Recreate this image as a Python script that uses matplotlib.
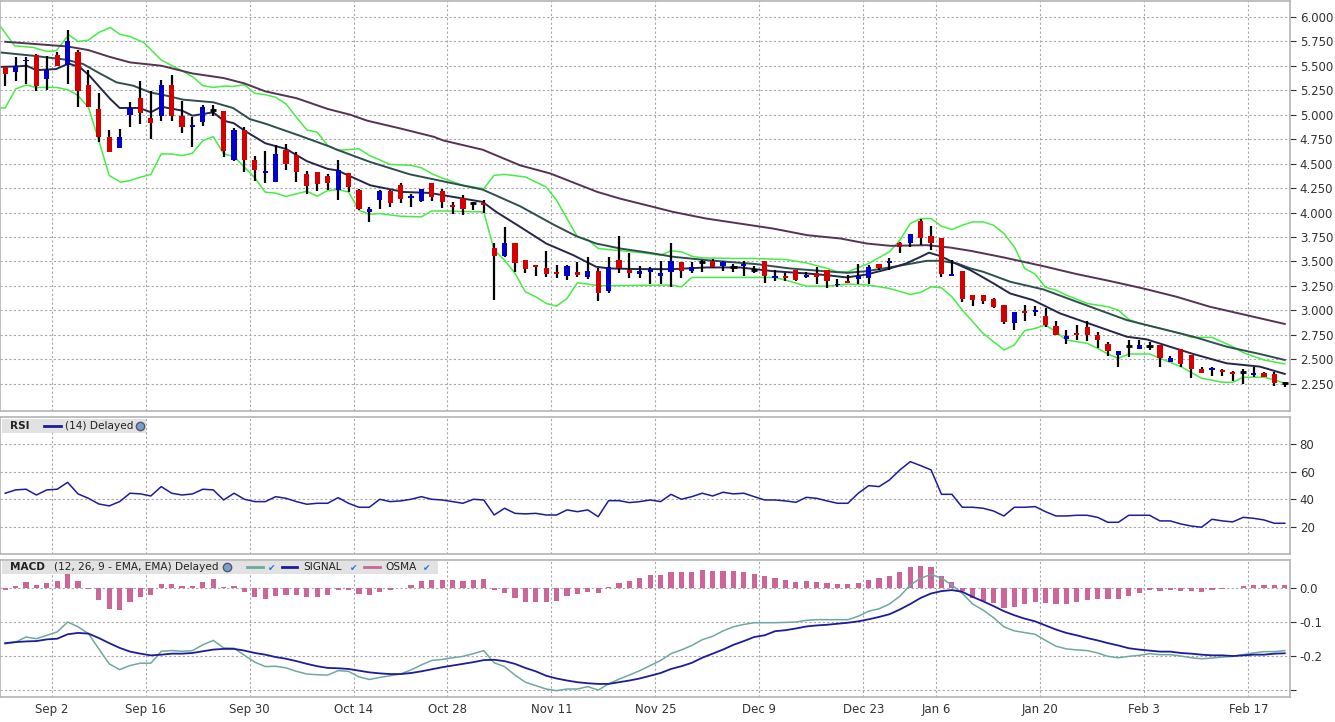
import numpy as np
import pandas as pd
import matplotlib
matplotlib.use("Agg")
import matplotlib.pyplot as plt

# --- trading days (TSX calendar) ---
holidays = ["2024-09-02", "2024-10-14", "2024-12-25", "2024-12-26",
            "2025-01-01", "2025-02-17"]
dates = pd.bdate_range("2024-08-26", "2025-02-21")
dates = dates[~dates.isin(pd.to_datetime(holidays))]

tick_dates = ["2024-09-02", "2024-09-16", "2024-09-30", "2024-10-14",
              "2024-10-28", "2024-11-11", "2024-11-25", "2024-12-09",
              "2024-12-23", "2025-01-06", "2025-01-20", "2025-02-03",
              "2025-02-17"]
tick_labels = ["Sep 2", "Sep 16", "Sep 30", "Oct 14", "Oct 28", "Nov 11",
               "Nov 25", "Dec 9", "Dec 23", "Jan 6", "Jan 20", "Feb 3", "Feb 17"]

# --- OHLC ---
opens = [5.49, 5.44, 5.546, 5.614, 5.369, 5.614, 5.508, 5.645, 5.308, 5.063,
         4.777, 4.658, 5.002, 5.172, 4.968, 4.985, 5.308, 4.99, 4.872, 4.923,
         5.053, 5.043, 4.539, 4.849, 4.539, 4.41, 4.318, 4.644, 4.593, 4.39,
         4.42, 4.372, 4.228, 4.408, 4.228, 4.007, 4.126, 4.221, 4.279, 4.15,
         4.119, 4.303, 4.218, 4.075, 4.153, 4.099, 4.099, 3.64, 3.558, 3.684,
         3.514, 3.469, 3.435, 3.39, 3.354, 3.39, 3.34, 3.401, 3.2, 3.514,
         3.418, 3.371, 3.395, 3.354, 3.388, 3.497, 3.405, 3.49, 3.503, 3.452,
         3.446, 3.456, 3.412, 3.503, 3.33, 3.35, 3.412, 3.34, 3.378, 3.412,
         3.26, 3.30, 3.316, 3.333, 3.473, 3.486, 3.69, 3.69, 3.915, 3.759,
         3.741, 3.35, 3.405, 3.156, 3.156, 3.112, 3.054, 2.874, 2.993, 2.986,
         2.942, 2.844, 2.707, 2.765, 2.833, 2.748, 2.656, 2.544, 2.64, 2.605,
         2.64, 2.646, 2.476, 2.605, 2.544, 2.401, 2.395, 2.391, 2.371, 2.374,
         2.34, 2.36, 2.35, 2.255]
highs = [5.49, 5.59, 5.594, 5.62, 5.60, 5.645, 5.866, 5.66, 5.457, 5.22,
         4.84, 4.855, 5.134, 5.349, 5.247, 5.355, 5.41, 5.145, 4.974, 5.10,
         5.10, 5.043, 4.866, 4.88, 4.576, 4.634, 4.692, 4.702, 4.617, 4.43,
         4.42, 4.396, 4.534, 4.408, 4.245, 4.058, 4.235, 4.235, 4.306, 4.194,
         4.245, 4.303, 4.238, 4.109, 4.184, 4.109, 4.126, 3.684, 3.854, 3.684,
         3.514, 3.469, 3.605, 3.463, 3.463, 3.49, 3.548, 3.435, 3.541, 3.759,
         3.582, 3.452, 3.439, 3.503, 3.69, 3.497, 3.49, 3.514, 3.527, 3.503,
         3.473, 3.503, 3.452, 3.503, 3.418, 3.378, 3.412, 3.395, 3.439, 3.412,
         3.326, 3.36, 3.473, 3.463, 3.473, 3.537, 3.70, 3.786, 3.939, 3.864,
         3.741, 3.514, 3.405, 3.156, 3.156, 3.122, 3.054, 2.98, 3.054, 3.044,
         3.02, 2.895, 2.80, 2.85, 2.891, 2.775, 2.68, 2.585, 2.697, 2.697,
         2.68, 2.646, 2.53, 2.605, 2.544, 2.425, 2.425, 2.405, 2.38, 2.401,
         2.418, 2.371, 2.374, 2.272]
lows = [5.29, 5.35, 5.32, 5.24, 5.253, 5.50, 5.315, 5.077, 5.077, 4.72,
        4.617, 4.658, 4.872, 4.906, 4.753, 4.94, 4.94, 4.81, 4.675, 4.89,
        4.99, 4.566, 4.532, 4.413, 4.328, 4.304, 4.318, 4.44, 4.318, 4.192,
        4.216, 4.233, 4.126, 4.21, 4.024, 3.905, 4.034, 4.058, 4.099, 4.058,
        4.109, 4.119, 4.048, 3.99, 3.973, 4.024, 4.0, 3.105, 3.548, 3.395,
        3.384, 3.35, 3.343, 3.333, 3.31, 3.343, 3.32, 3.099, 3.173, 3.378,
        3.333, 3.327, 3.265, 3.265, 3.24, 3.327, 3.378, 3.395, 3.43, 3.405,
        3.395, 3.354, 3.378, 3.282, 3.303, 3.303, 3.303, 3.327, 3.269, 3.231,
        3.24, 3.275, 3.265, 3.265, 3.41, 3.41, 3.588, 3.65, 3.667, 3.622,
        3.344, 3.35, 3.082, 3.044, 3.07, 3.02, 2.861, 2.80, 2.895, 2.942,
        2.833, 2.748, 2.656, 2.697, 2.69, 2.612, 2.537, 2.418, 2.527, 2.605,
        2.595, 2.425, 2.476, 2.425, 2.313, 2.357, 2.333, 2.333, 2.279, 2.245,
        2.323, 2.323, 2.231, 2.221]
closes = [5.42, 5.50, 5.563, 5.298, 5.457, 5.502, 5.75, 5.247, 5.077, 4.77,
          4.617, 4.777, 5.07, 5.015, 4.913, 5.308, 4.985, 4.872, 4.90, 5.083,
          5.053, 4.634, 4.849, 4.542, 4.44, 4.43, 4.60, 4.498, 4.413, 4.27,
          4.294, 4.30, 4.439, 4.262, 4.034, 4.034, 4.218, 4.099, 4.136, 4.167,
          4.238, 4.16, 4.109, 4.058, 4.034, 4.099, 4.082, 3.558, 3.684, 3.486,
          3.422, 3.446, 3.37, 3.37, 3.452, 3.36, 3.401, 3.18, 3.439, 3.429,
          3.384, 3.401, 3.422, 3.384, 3.503, 3.405, 3.439, 3.49, 3.439, 3.493,
          3.446, 3.473, 3.412, 3.354, 3.35, 3.33, 3.31, 3.361, 3.337, 3.303,
          3.27, 3.282, 3.35, 3.439, 3.435, 3.503, 3.65, 3.779, 3.741, 3.69,
          3.371, 3.371, 3.116, 3.105, 3.099, 3.031, 2.884, 2.98, 2.969, 3.003,
          2.85, 2.748, 2.738, 2.748, 2.748, 2.697, 2.588, 2.585, 2.64, 2.646,
          2.64, 2.517, 2.51, 2.452, 2.401, 2.357, 2.412, 2.374, 2.354, 2.374,
          2.36, 2.323, 2.262, 2.255]

# --- overlays (position in bars, price) ---
sma_long_x = [0, 3, 6, 8, 10, 12, 15, 18, 21, 23, 25, 28, 31, 33.2, 34.8, 38,
              41.2, 42.1, 45.9, 49.5, 52.4, 56.9, 59.1, 62.3, 64.2, 67.4, 70.6,
              72.3, 73.8, 77.1, 80.3, 82.8, 85.1, 88.6, 90.8, 92.8, 96, 99.8,
              103, 106.2, 109.4, 112.6, 115.8, 119, 123]
sma_long_y = [5.747, 5.723, 5.699, 5.662, 5.594, 5.536, 5.502, 5.423, 5.376,
              5.321, 5.24, 5.17, 5.06, 5.0, 4.94, 4.86, 4.775, 4.738, 4.643,
              4.483, 4.40, 4.212, 4.143, 4.058, 4.007, 3.939, 3.888, 3.861,
              3.837, 3.769, 3.735, 3.684, 3.66, 3.667, 3.643, 3.609, 3.541,
              3.452, 3.371, 3.30, 3.224, 3.139, 3.037, 2.959, 2.861]

sma_mid_x = [-0.5, 2.7, 5.9, 7.5, 9.1, 10.7, 12.3, 13.9, 15.5, 17.1, 20, 21.9,
             23.5, 25.1, 28.3, 31.2, 31.9, 35.1, 38.9, 42.4, 45.9, 49.5, 52.7,
             54.9, 56.8, 59.1, 62, 64.2, 67.4, 72.2, 75.4, 78.7, 80.9, 82.8,
             85.4, 88.6, 89.9, 91.5, 92.8, 94, 96.6, 99.8, 103, 107.8, 111,
             114.2, 117.4, 120.6, 123]
sma_mid_y = [5.638, 5.604, 5.563, 5.519, 5.423, 5.332, 5.298, 5.23, 5.196,
             5.155, 5.128, 5.07, 4.957, 4.906, 4.787, 4.675, 4.643, 4.517,
             4.391, 4.313, 4.235, 4.065, 3.878, 3.759, 3.684, 3.633, 3.588,
             3.548, 3.514, 3.473, 3.429, 3.401, 3.384, 3.401, 3.446, 3.507,
             3.507, 3.48, 3.429, 3.395, 3.293, 3.214, 3.088, 2.901, 2.816,
             2.731, 2.629, 2.554, 2.493]

sma_short_x = [-0.5, 1.1, 2.05, 3, 4.9, 6.1, 7.2, 8.1, 9.1, 10.1, 11, 12.9, 14,
               15, 17, 18, 20, 21, 22, 23, 25, 27, 29, 31, 31.9, 35.1, 38.3,
               40.8, 43.1, 45.9, 47.2, 49.5, 52, 54.6, 56.8, 58.1, 61, 64.2,
               67.4, 70.6, 73.8, 77, 78.9, 80.9, 82.8, 84.7, 86.6, 88, 88.8,
               89.9, 91.5, 92.8, 95, 96.6, 98.8, 101.4, 104.6, 107.8, 109.7,
               114.2, 117.4, 120.6, 123]
sma_short_y = [5.49, 5.495, 5.502, 5.457, 5.468, 5.525, 5.485, 5.40, 5.28,
               5.162, 5.07, 5.07, 5.026, 5.083, 5.043, 4.991, 5.026, 4.94,
               4.913, 4.838, 4.709, 4.651, 4.526, 4.447, 4.432, 4.279, 4.211,
               4.201, 4.16, 4.109, 4.007, 3.854, 3.684, 3.565, 3.446, 3.429,
               3.422, 3.422, 3.439, 3.439, 3.401, 3.378, 3.361, 3.337, 3.367,
               3.418, 3.48, 3.548, 3.59, 3.555, 3.473, 3.41, 3.276, 3.173,
               3.105, 2.969, 2.85, 2.731, 2.704, 2.554, 2.459, 2.425, 2.35]

bb_up_x = [-0.5, 0.9, 2.7, 4, 4.9, 6.1, 7, 8, 9, 10.1, 11, 12, 13.3, 15, 17,
           18.1, 19, 20, 21, 21.9, 23, 24, 25, 26, 27, 28, 29, 30, 31, 32, 34,
           35, 37, 39, 40, 41, 42, 44, 46, 47, 48, 50, 52, 53, 54, 55, 56, 57,
           58, 61, 63, 64, 65, 66, 67, 70, 72, 75, 77, 79, 80, 81, 83, 85, 86,
           87, 88, 89, 90, 91, 92, 93, 94, 95, 96, 97, 98, 99, 100, 101, 102,
           104, 106, 107, 108, 109, 111, 113, 114, 116, 118, 119, 121, 123]
bb_up_y = [5.91, 5.706, 5.689, 5.648, 5.655, 5.818, 5.75, 5.764, 5.842, 5.893,
           5.825, 5.80, 5.74, 5.56, 5.45, 5.383, 5.298, 5.28, 5.294, 5.29,
           5.308, 5.219, 5.206, 5.179, 5.11, 4.974, 4.845, 4.821, 4.685,
           4.636, 4.653, 4.585, 4.493, 4.483, 4.459, 4.398, 4.354, 4.279,
           4.245, 4.381, 4.391, 4.364, 4.262, 4.126, 3.939, 3.752, 3.724,
           3.633, 3.622, 3.592, 3.565, 3.609, 3.599, 3.554, 3.537, 3.531,
           3.531, 3.52, 3.486, 3.429, 3.395, 3.395, 3.48, 3.599, 3.718, 3.888,
           3.939, 3.939, 3.861, 3.827, 3.871, 3.905, 3.905, 3.871, 3.786,
           3.65, 3.429, 3.371, 3.235, 3.207, 3.156, 3.071, 3.037, 3.003,
           2.908, 2.867, 2.816, 2.765, 2.724, 2.724, 2.629, 2.568, 2.493, 2.452]

bb_lo_x = [-0.5, 0, 1, 2, 3, 5, 6.1, 7, 8, 9, 10, 11.1, 12, 13, 14, 15, 16, 17,
           18, 19, 20, 21, 22, 23, 24, 25, 26, 27, 28, 29, 30, 31, 32, 33, 34,
           35, 36, 38, 40, 41, 42, 46, 47, 48, 49, 50, 51, 52, 53, 54, 55, 56,
           57, 64, 65, 66, 74, 75, 77, 79, 81, 83, 85, 87, 88, 89, 90, 91, 92,
           93, 94, 95, 96, 97, 98, 99, 100, 101, 102, 103, 104, 105, 106, 107,
           108, 110, 111, 113, 115, 117, 118, 119, 121, 122, 123]
bb_lo_y = [5.07, 5.07, 5.264, 5.304, 5.28, 5.28, 5.253, 5.196, 5.077, 4.736,
           4.379, 4.311, 4.328, 4.362, 4.39, 4.60, 4.60, 4.583, 4.607, 4.736,
           4.777, 4.60, 4.573, 4.464, 4.355, 4.209, 4.199, 4.165, 4.192,
           4.219, 4.168, 4.226, 4.235, 4.211, 4.024, 3.983, 3.99, 3.963,
           3.956, 4.017, 4.017, 4.007, 3.616, 3.514, 3.378, 3.19, 3.139,
           3.071, 3.044, 3.122, 3.282, 3.269, 3.252, 3.259, 3.241, 3.337,
           3.337, 3.31, 3.248, 3.248, 3.269, 3.259, 3.224, 3.163, 3.184,
           3.241, 3.231, 3.139, 3.003, 2.884, 2.765, 2.68, 2.595, 2.646,
           2.793, 2.816, 2.85, 2.782, 2.697, 2.68, 2.663, 2.612, 2.554, 2.51,
           2.554, 2.554, 2.51, 2.425, 2.306, 2.265, 2.265, 2.316, 2.316,
           2.289, 2.255]

# --- RSI (14) ---
rsi = [44.5, 46.9, 47.4, 43.2, 46.9, 47.4, 52.4, 44, 40.8, 36.7, 35.3, 38.4,
       44.5, 44, 42.5, 49.3, 44.5, 43.2, 44, 47.4, 46.9, 39.6, 44.5, 40.1,
       38.4, 38.4, 42, 40.8, 38.4, 36.5, 37.2, 37.2, 41.3, 37.2, 34.3, 34.3,
       40.1, 38.4, 38.9, 40.1, 42, 40.1, 39.6, 38.4, 37.2, 40.1, 39.6, 28.7,
       33.6, 29.9, 29.5, 29.9, 28.7, 28.7, 32.4, 31.1, 32.4, 27.5, 39.1, 39.1,
       37.7, 38.4, 39.6, 38.4, 43.7, 40.1, 42, 44.5, 42.5, 45.2, 44, 44.5, 42,
       39.6, 39.6, 38.9, 37.9, 41.5, 40.8, 38.9, 37.2, 37.2, 44.5, 50, 49.3,
       54.1, 61.4, 67.4, 64.5, 61.4, 43.7, 43.7, 34.3, 34.3, 33.6, 31.6, 28,
       34.3, 34.3, 34.8, 31.1, 28, 28, 28.5, 28.5, 27, 23.4, 23.4, 28.5, 28.5,
       28.5, 24.4, 24.4, 22.2, 20.7, 19.8, 25.6, 24.4, 23.7, 27, 26.3, 25.1,
       22.7, 22.7]

# --- MACD (12, 26, 9) ---
macd = [-0.165, -0.16, -0.145, -0.15, -0.14, -0.13, -0.101, -0.115, -0.135,
        -0.18, -0.224, -0.241, -0.229, -0.222, -0.222, -0.187, -0.185, -0.187,
        -0.185, -0.168, -0.155, -0.177, -0.178, -0.199, -0.219, -0.232,
        -0.231, -0.236, -0.246, -0.254, -0.256, -0.257, -0.244, -0.246,
        -0.262, -0.27, -0.264, -0.259, -0.254, -0.242, -0.227, -0.214,
        -0.211, -0.206, -0.202, -0.194, -0.185, -0.221, -0.232, -0.257,
        -0.278, -0.288, -0.298, -0.303, -0.298, -0.298, -0.291, -0.301,
        -0.283, -0.269, -0.257, -0.244, -0.229, -0.214, -0.194, -0.183,
        -0.17, -0.153, -0.143, -0.127, -0.115, -0.108, -0.103, -0.103,
        -0.103, -0.102, -0.101, -0.096, -0.094, -0.094, -0.094, -0.094,
        -0.084, -0.069, -0.062, -0.048, -0.025, 0.008, 0.028, 0.039, 0.028,
        0.008, -0.017, -0.048, -0.066, -0.088, -0.115, -0.127, -0.132,
        -0.137, -0.155, -0.172, -0.18, -0.183, -0.185, -0.192, -0.202,
        -0.206, -0.202, -0.199, -0.194, -0.197, -0.197, -0.201, -0.206,
        -0.209, -0.207, -0.204, -0.202, -0.197, -0.192, -0.188, -0.188, -0.185]
signal = [-0.163, -0.16, -0.158, -0.157, -0.152, -0.15, -0.137, -0.133,
          -0.135, -0.148, -0.163, -0.177, -0.188, -0.194, -0.199, -0.197,
          -0.194, -0.194, -0.192, -0.187, -0.182, -0.18, -0.18, -0.185,
          -0.192, -0.197, -0.204, -0.209, -0.216, -0.224, -0.231, -0.236,
          -0.237, -0.239, -0.244, -0.249, -0.252, -0.254, -0.254, -0.251,
          -0.246, -0.24, -0.234, -0.229, -0.224, -0.219, -0.213, -0.212,
          -0.216, -0.224, -0.236, -0.246, -0.259, -0.267, -0.273, -0.278,
          -0.281, -0.283, -0.283, -0.278, -0.273, -0.267, -0.259, -0.251,
          -0.239, -0.231, -0.221, -0.206, -0.194, -0.182, -0.168, -0.157,
          -0.145, -0.14, -0.128, -0.125, -0.12, -0.114, -0.111, -0.109,
          -0.106, -0.103, -0.099, -0.093, -0.086, -0.078, -0.064, -0.048,
          -0.03, -0.017, -0.01, -0.007, -0.012, -0.027, -0.04, -0.054,
          -0.069, -0.081, -0.091, -0.099, -0.111, -0.123, -0.133, -0.14,
          -0.148, -0.155, -0.163, -0.17, -0.178, -0.182, -0.185, -0.188,
          -0.188, -0.192, -0.194, -0.197, -0.199, -0.199, -0.201, -0.199,
          -0.197, -0.197, -0.194, -0.193]
osma = [-0.007, 0.005, 0.017, 0.008, 0.014, 0.02, 0.04, 0.02, -0.004, -0.037,
        -0.063, -0.066, -0.042, -0.028, -0.022, 0.012, 0.012, 0.006, 0.006,
        0.017, 0.026, 0.002, 0.005, -0.013, -0.028, -0.034, -0.024, -0.022,
        -0.022, -0.028, -0.026, -0.022, -0.007, -0.008, -0.019, -0.022,
        -0.012, -0.007, -0.002, 0.008, 0.02, 0.023, 0.023, 0.023, 0.02, 0.023,
        0.026, -0.007, -0.016, -0.03, -0.042, -0.042, -0.042, -0.04, -0.025,
        -0.019, -0.012, -0.016, 0.002, 0.014, 0.02, 0.029, 0.036, 0.038,
        0.046, 0.046, 0.046, 0.052, 0.049, 0.049, 0.049, 0.046, 0.04, 0.035,
        0.029, 0.023, 0.017, 0.02, 0.017, 0.014, 0.011, 0.011, 0.014, 0.023,
        0.029, 0.035, 0.046, 0.061, 0.064, 0.061, 0.035, 0.017, -0.01, -0.031,
        -0.04, -0.045, -0.06, -0.057, -0.049, -0.042, -0.045, -0.048, -0.048,
        -0.042, -0.037, -0.034, -0.034, -0.034, -0.025, -0.016, -0.007, -0.01,
        -0.007, -0.01, -0.01, -0.013, -0.007, -0.004, 0.0, 0.005, 0.008,
        0.008, 0.008, 0.008]

# --- colori ---
C_UP = "#0000cc"
C_DOWN = "#d40000"
C_BB = "#44ee44"
C_SHORT = "#26264a"
C_MID = "#2f4f4f"
C_LONG = "#553355"
C_MACD = "#6fa8a0"
C_SIGNAL = "#1c1c9c"
C_OSMA = "#cc6699"
C_GRID = "#a8a8a8"
C_FRAME = "#b4b4b4"
C_TEXT = "#333333"

W, H = 1335, 722
fig = plt.figure(figsize=(W / 100, H / 100), dpi=100)
fig.patch.set_facecolor("white")


def px_axes(x0, y0, x1, y1):
    return fig.add_axes([x0 / W, 1 - y1 / H, (x1 - x0) / W, (y1 - y0) / H])


ax = px_axes(0, 1, 1290, 411)
ax_rsi = px_axes(0, 417, 1290, 554)
ax_macd = px_axes(0, 560, 1290, 697)

n = len(closes)
idx = np.arange(n)
tick_pos = [dates.searchsorted(pd.Timestamp(d)) - 0.5 for d in tick_dates]

for a in (ax, ax_rsi, ax_macd):
    a.set_xlim(-0.5, n - 0.5)
    a.yaxis.tick_right()
    a.set_xticks(tick_pos)
    a.grid(True, color=C_GRID, linestyle=(0, (2, 2)), linewidth=0.8)
    a.set_axisbelow(True)
    for s in a.spines.values():
        s.set_color(C_FRAME)
        s.set_linewidth(1.2)
    a.tick_params(axis="y", colors=C_TEXT, labelsize=8.5, length=4,
                  direction="out", pad=3)
    a.tick_params(axis="x", length=0, labelbottom=False)

# --- candele ---
o = np.array(opens)
c = np.array(closes)
h = np.array(highs)
l = np.array(lows)
up = c > o
down = c < o
flat = c == o
ax.vlines(idx, l, h, color="black", linewidth=1.6, zorder=3)
body = np.maximum(np.abs(c - o), 0.012)
ax.bar(idx[up], body[up], bottom=o[up], width=0.5, color=C_UP, zorder=4)
ax.bar(idx[down], body[down], bottom=c[down], width=0.5, color=C_DOWN, zorder=4)
ax.hlines(c[flat], idx[flat] - 0.3, idx[flat] + 0.3, color="black",
          linewidth=2, zorder=4)

# --- overlay ---
ax.plot(bb_up_x, bb_up_y, color=C_BB, linewidth=1.1, zorder=2)
ax.plot(bb_lo_x, bb_lo_y, color=C_BB, linewidth=1.1, zorder=2)
ax.plot(sma_long_x, sma_long_y, color=C_LONG, linewidth=1.4, zorder=2)
ax.plot(sma_mid_x, sma_mid_y, color=C_MID, linewidth=1.4, zorder=2)
ax.plot(sma_short_x, sma_short_y, color=C_SHORT, linewidth=1.4, zorder=2)

ax.set_ylim(1.971, 6.164)
yt = np.arange(2.25, 6.01, 0.25)
ax.set_yticks(yt)
ax.set_yticklabels([f"{v:.3f}" for v in yt])

# --- RSI ---
ax_rsi.plot(idx, rsi, color=C_SIGNAL, linewidth=1.1)
ax_rsi.set_ylim(0.4, 99.8)
ax_rsi.set_yticks([20, 40, 60, 80])

# --- MACD ---
ax_macd.bar(idx, osma, width=0.5, color=C_OSMA, zorder=2)
ax_macd.plot(idx, macd, color=C_MACD, linewidth=1.1, zorder=3)
ax_macd.plot(idx, signal, color=C_SIGNAL, linewidth=1.3, zorder=3)
ax_macd.set_ylim(-0.3215, 0.0815)
ax_macd.set_yticks([0.0, -0.1, -0.2, -0.3])
ax_macd.set_yticklabels(["0.0", "-0.1", "-0.2", ""])
ax_macd.tick_params(axis="x", labelbottom=True, labelsize=8.5,
                    colors=C_TEXT, pad=4)
ax_macd.set_xticklabels(tick_labels)


# --- etichette dei pannelli ---
def px_rect(x0, y0, x1, y1):
    fig.patches.append(plt.Rectangle((x0 / W, 1 - y1 / H), (x1 - x0) / W,
                                     (y1 - y0) / H, transform=fig.transFigure,
                                     facecolor="#e2e2e2", edgecolor="none",
                                     zorder=5))


def px_text(x, y, s, **kw):
    kw.setdefault("fontsize", 7.6)
    kw.setdefault("color", "#222222")
    return fig.text(x / W, 1 - y / H, s, va="center", ha="left", zorder=6, **kw)


def px_line(x0, x1, y, color):
    fig.add_artist(plt.Line2D([x0 / W, x1 / W], [1 - y / H, 1 - y / H],
                              color=color, linewidth=2, zorder=6))


def px_check(x, y):
    fig.text(x / W, 1 - y / H, "\u2714", va="center", ha="center",
             fontsize=6.5, color="#2277dd", zorder=6)


def px_globe(x, y):
    fig.add_artist(plt.Line2D([x / W], [1 - y / H], marker="o", markersize=6,
                              markerfacecolor="#7aa0c8",
                              markeredgecolor="#555577",
                              linestyle="none", zorder=6))


px_rect(2, 419, 146, 433)
px_text(10, 426, "RSI", fontweight="bold")
px_line(44, 61, 425.5, C_SIGNAL)
px_text(65, 426, "(14) Delayed")
px_globe(140, 425.5)

px_rect(2, 561, 438, 574)
px_text(10, 567.5, "MACD", fontweight="bold")
px_text(54, 567.5, "(12, 26, 9 - EMA, EMA) Delayed")
px_globe(227, 567)
px_line(247, 263, 567, C_MACD)
px_check(272, 568)
px_line(282, 297, 567, C_SIGNAL)
px_text(303, 567.5, "SIGNAL")
px_check(354, 568)
px_line(364, 380, 567, C_OSMA)
px_text(385, 567.5, "OSMA")
px_check(427, 568)

fig.savefig("out.png", dpi=100, facecolor="white")
